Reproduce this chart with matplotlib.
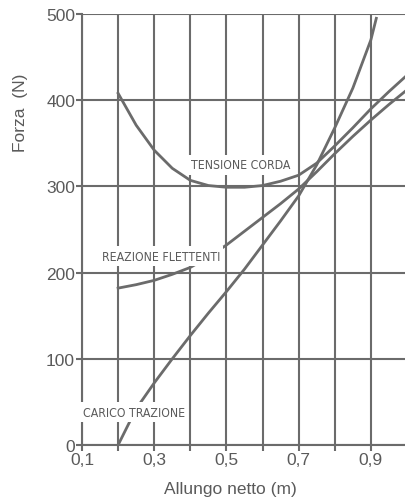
import numpy as np
import matplotlib
matplotlib.use('Agg')
import matplotlib.pyplot as plt

# valori
allungo = [0.2, 0.25, 0.3, 0.35, 0.4, 0.45, 0.5, 0.55, 0.6, 0.65, 0.7, 0.75, 0.8, 0.85, 0.9, 0.95, 1.0]
tensione_corda = [408, 371, 342, 321, 307, 301, 299, 299, 301, 306, 313, 327, 347, 368, 390, 410, 429]
reazione_flettenti = [182, 186, 191, 198, 206, 218, 232, 248, 264, 280, 297, 317, 338, 358, 377, 395, 412]

allungo_carico = [0.2, 0.25, 0.3, 0.35, 0.4, 0.45, 0.5, 0.55, 0.6, 0.65, 0.7, 0.75, 0.8, 0.85, 0.9, 0.915]
carico_trazione = [0, 42, 72, 100, 127, 153, 178, 204, 232, 260, 289, 325, 368, 414, 470, 495]

x_ticks = [0.1, 0.2, 0.3, 0.4, 0.5, 0.6, 0.7, 0.8, 0.9]
x_labels = ['0,1', '', '0,3', '', '0,5', '', '0,7', '', '0,9']
y_ticks = [0, 100, 200, 300, 400, 500]

grey = '#6b6b6b'
txt = '#5a5a5a'

fig = plt.figure(figsize=(4.05, 5.02), dpi=100)
ax = fig.add_axes([82/405, 56/502, 325/405, 431/502])

ax.plot(allungo, tensione_corda, color=grey, lw=2.0, zorder=3)
ax.plot(allungo, reazione_flettenti, color=grey, lw=2.0, zorder=3)
ax.plot(allungo_carico, carico_trazione, color=grey, lw=2.0, zorder=3)

ax.set_xlim(0.1, 1.0)
ax.set_ylim(0, 500)
ax.set_xticks(x_ticks)
ax.set_xticklabels(x_labels)
ax.set_yticks(y_ticks)
ax.grid(True, color=grey, lw=1.5)
ax.set_axisbelow(True)
for s in ['top', 'right']:
    ax.spines[s].set_visible(False)
for s in ['left', 'bottom']:
    ax.spines[s].set_color(grey)
    ax.spines[s].set_linewidth(1.5)
ax.tick_params(colors=grey, labelcolor=txt, labelsize=12.5, length=4, width=1.5, pad=1)
for lab in ax.get_xticklabels() + ax.get_yticklabels():
    lab.set_family('Liberation Sans')

ax.set_ylabel('Forza  (N)', color=txt, fontsize=12.5, family='Liberation Sans')
ax.yaxis.set_label_coords(-0.165, 0.773)
ax.set_xlabel('Allungo netto (m)', color=txt, fontsize=12.5, family='Liberation Sans')
ax.xaxis.set_label_coords(0.455, -0.084)

# etichette delle curve, con fondo bianco
box = dict(facecolor='white', edgecolor='none', pad=2.5)
lbl = dict(color=txt, fontsize=8.8, family='DejaVu Sans', fontstretch='condensed',
           ha='center', va='center', bbox=box, zorder=5)
ax.text(0.539, 325, 'TENSIONE CORDA', **lbl)
ax.text(0.318, 219, 'REAZIONE FLETTENTI', **lbl)
ax.text(0.244, 38, 'CARICO TRAZIONE', **lbl)

fig.savefig('out.png', dpi=100)
